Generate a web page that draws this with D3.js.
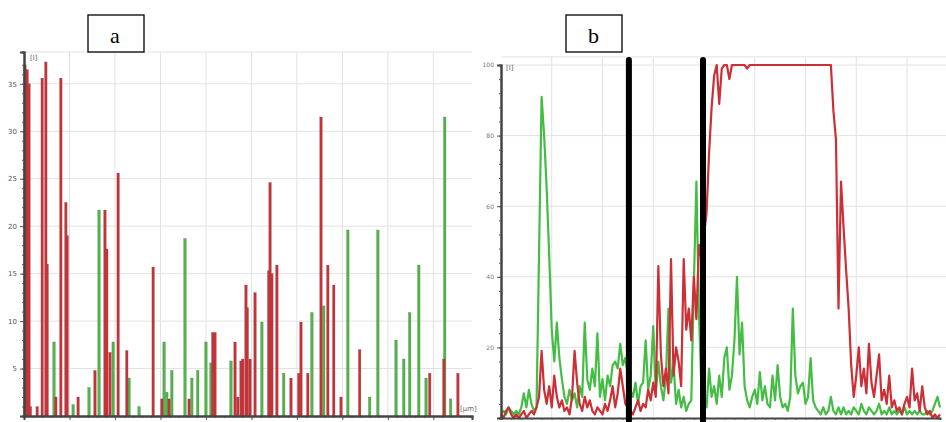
<!DOCTYPE html>
<html>
<head>
<meta charset="utf-8">
<script src="https://cdn.jsdelivr.net/npm/d3@7"></script>
<style>
  body { margin: 0; background: #fff; }
  svg { display: block; }
</style>
</head>
<body>
<svg id="chart" width="946" height="422"></svg>
<script>
// ---- panel a : peaks [position in um, intensity] ----
var aRedPeaks = [
  [0.02, 37], [0.07, 36.5], [0.11, 35], [0.14, 1], [0.29, 1], [0.40, 35.6], [0.48, 37.3],
  [0.51, 16], [0.70, 2], [0.81, 35.6], [0.92, 22.5], [0.95, 19], [1.19, 2], [1.56, 4.8],
  [1.78, 21.7], [1.82, 17.6], [1.89, 6.7], [2.07, 25.6], [2.26, 6.9], [2.84, 15.7],
  [3.03, 1.8], [3.19, 1.8], [3.63, 1.8], [4.15, 8.8], [4.20, 8.8], [4.64, 7.8], [4.70, 2],
  [4.77, 5.8], [4.81, 6], [4.88, 13.8], [4.91, 11.4], [4.97, 6], [5.08, 13], [5.38, 15.3],
  [5.41, 24.6], [5.45, 15], [5.56, 15.9], [5.87, 4], [6.04, 4.5], [6.09, 9.9], [6.24, 4.5],
  [6.53, 31.5], [6.68, 15.9], [6.81, 13.8], [6.97, 2], [7.38, 7], [8.92, 4.5], [9.23, 6],
  [9.54, 4.5]
];
var aGreenPeaks = [
  [0.08, 29], [0.66, 7.8], [1.08, 1.2], [1.43, 3], [1.65, 21.7], [1.96, 7.8], [2.31, 4],
  [2.53, 1], [3.08, 7.8], [3.14, 2.5], [3.25, 4.8], [3.54, 18.7], [3.69, 4], [3.82, 4.8],
  [4.00, 7.8], [4.11, 5.6], [4.55, 5.8], [5.23, 9.9], [5.71, 4.5], [6.33, 10.9], [6.59, 11.6],
  [7.12, 19.6], [7.60, 2], [7.78, 19.6], [8.18, 8], [8.35, 6], [8.48, 10.9], [8.68, 15.9],
  [8.84, 4], [9.25, 31.5], [9.38, 1.8]
];
var aTicks = [5, 10, 15, 20, 25, 30, 35];

// ---- panel b : profile sampled every bStep um ----
var bStep = 0.05;
var bGreen = [
  1, 2, 1, 3, 2, 1, 2, 1, 3, 7, 3, 8, 4, 2, 3, 47, 91, 80, 65, 46,
  25, 16, 27, 17, 11, 6, 4, 8, 5, 7, 3, 9, 6, 27, 11, 8, 14, 9, 24, 6,
  11, 5, 12, 9, 15, 16, 14, 21, 15, 17, 12, 8, 6, 10, 4, 9, 10, 22, 8, 12,
  26, 7, 16, 9, 5, 12, 31, 10, 15, 4, 8, 3, 6, 2, 4, 5, 38, 67, 30, 8,
  5, 3, 14, 6, 9, 4, 12, 6, 17, 20, 8, 12, 22, 40, 18, 27, 9, 5, 3, 6,
  8, 4, 13, 5, 9, 4, 3, 12, 5, 15, 6, 3, 4, 2, 6, 31, 12, 7, 9, 10,
  4, 6, 17, 5, 3, 2, 1, 3, 1, 2, 6, 2, 1, 3, 1, 3, 1, 2, 1, 3,
  2, 1, 4, 2, 1, 3, 2, 1, 2, 4, 1, 2, 1, 3, 1, 2, 1, 2, 1, 3,
  1, 2, 1, 2, 1, 2, 1, 1, 2, 1, 2, 4, 6, 3
];
var bRed = [
  1, 0, 2, 3, 1, 0, 1, 0, 1, 2, 0, 1, 2, 1, 3, 6, 19, 8, 4, 9,
  3, 12, 6, 3, 5, 2, 3, 1, 6, 19, 10, 4, 2, 6, 3, 5, 2, 1, 3, 2,
  1, 4, 2, 5, 9, 3, 7, 14, 9, 4, 3, 2, 1, 3, 5, 2, 4, 3, 8, 5,
  10, 6, 43, 18, 9, 14, 7, 45, 12, 20, 16, 9, 45, 25, 31, 22, 40, 28, 49, 45,
  52, 58, 75, 88, 97, 100, 89, 99, 100, 100, 96, 100, 100, 100, 100, 100, 100, 99, 100, 100,
  100, 100, 100, 100, 100, 100, 100, 100, 100, 100, 100, 100, 100, 100, 100, 100, 100, 100, 100, 100,
  100, 100, 100, 100, 100, 100, 100, 100, 100, 100, 100, 87, 79, 31, 67, 54, 42, 31, 15, 6,
  12, 20, 9, 14, 7, 21, 10, 6, 12, 18, 5, 8, 4, 12, 3, 5, 2, 3, 1, 4,
  6, 3, 14, 5, 7, 2, 9, 3, 1, 2, 0, 1, 0, 1
];
var bTicks = [20, 40, 60, 80, 100];
var bMarkers = [2.52, 3.98];

var panelLabels = ["a", "b"];

var svg = d3.select("#chart");
svg.append("rect").attr("width", 946).attr("height", 422).attr("fill", "#fff");

var green = "#43bd43";
var red = "#cc2f35";

// ================ panel a ================
var xA = d3.scaleLinear().domain([0, 9.85]).range([24, 472]);
var yA = d3.scaleLinear().domain([0, 38.35]).range([416, 52]);

var gA = svg.append("g");

// grid
gA.selectAll(".vgrid").data(d3.range(1, 10)).enter().append("line")
  .attr("x1", (d) => xA(d)).attr("x2", (d) => xA(d))
  .attr("y1", yA(38.35)).attr("y2", yA(0))
  .style("stroke", "#e2e2e2").style("stroke-width", 1);
gA.selectAll(".hgrid").data(aTicks.concat([38.35])).enter().append("line")
  .attr("x1", xA(0)).attr("x2", xA(9.85))
  .attr("y1", (d) => yA(d)).attr("y2", (d) => yA(d))
  .style("stroke", "#e2e2e2").style("stroke-width", 1);

// bars
function drawPeaks(g, peaks, color, xs, ys) {
  g.selectAll(null).data(peaks).enter().append("rect")
    .attr("x", (d) => xs(d[0]) - 1.25)
    .attr("y", (d) => ys(d[1]))
    .attr("width", 2.5)
    .attr("height", (d) => ys(0) - ys(d[1]))
    .style("fill", color)
    .style("stroke", "#7a5a5a")
    .style("stroke-width", 0.4)
    .style("stroke-opacity", 0.7);
}
drawPeaks(gA, aGreenPeaks, green, xA, yA);
drawPeaks(gA, aRedPeaks, red, xA, yA);

// axes
gA.append("g").attr("transform", "translate(24,0)")
  .call(d3.axisLeft(yA).tickValues(aTicks).tickSize(4).tickFormat(d3.format("d")));
gA.append("g").attr("transform", "translate(24,0)")
  .call(d3.axisLeft(yA).tickValues(d3.range(1, 38)).tickSize(2).tickFormat(""));
gA.append("g").attr("transform", "translate(0,416)")
  .call(d3.axisBottom(xA).tickValues(d3.range(0, 9.85, 0.2)).tickSize(2).tickFormat(""));
gA.append("g").attr("transform", "translate(0,416)")
  .call(d3.axisBottom(xA).tickValues(d3.range(1, 10)).tickSize(4).tickFormat(""));
gA.selectAll(".domain").style("stroke", "#444").style("stroke-width", 2);
gA.selectAll(".tick line").style("stroke", "#555");
gA.selectAll(".tick text").style("font-family", "DejaVu Sans").style("font-size", "7px").style("fill", "#555");

gA.append("text").text("[I]").attr("x", 30).attr("y", 60)
  .style("font-family", "DejaVu Sans").style("font-size", "7px").style("fill", "#666");
gA.append("text").text("[µm]").attr("x", 460).attr("y", 411)
  .style("font-family", "DejaVu Sans").style("font-size", "7px").style("fill", "#666");

// ================ panel b ================
var xB = d3.scaleLinear().domain([0, 8.65]).range([501, 940]);
var yB = d3.scaleLinear().domain([0, 100]).range([418, 65]);
var bTop = 102.3;

var gB = svg.append("g");

gB.selectAll(".vgrid").data(d3.range(1, 9)).enter().append("line")
  .attr("x1", (d) => xB(d)).attr("x2", (d) => xB(d))
  .attr("y1", yB(bTop)).attr("y2", yB(0))
  .style("stroke", "#e2e2e2").style("stroke-width", 1);
gB.selectAll(".hgrid").data(bTicks.concat([bTop])).enter().append("line")
  .attr("x1", xB(0)).attr("x2", 946)
  .attr("y1", (d) => yB(d)).attr("y2", (d) => yB(d))
  .style("stroke", "#e2e2e2").style("stroke-width", 1);

var lineB = d3.line()
  .x((d, i) => xB(i * bStep))
  .y((d) => yB(d));

gB.append("path").datum(bGreen).attr("d", lineB)
  .style("fill", "none").style("stroke", green).style("stroke-width", 2.2)
  .style("stroke-linejoin", "round");
gB.append("path").datum(bRed).attr("d", lineB)
  .style("fill", "none").style("stroke", red).style("stroke-width", 2.2)
  .style("stroke-linejoin", "round");

gB.append("g").attr("transform", "translate(501,0)")
  .call(d3.axisLeft(yB).tickValues(bTicks).tickSize(4).tickFormat(d3.format("d")));
gB.append("g").attr("transform", "translate(501,0)")
  .call(d3.axisLeft(yB).tickValues(d3.range(4, 102, 4)).tickSize(2).tickFormat(""));
gB.append("g").attr("transform", "translate(0,418)")
  .call(d3.axisBottom(xB).tickValues(d3.range(0, 8.65, 0.2)).tickSize(2).tickFormat(""));
gB.selectAll(".domain").style("stroke", "#444").style("stroke-width", 2);
gB.selectAll(".tick line").style("stroke", "#555");
gB.selectAll(".tick text").style("font-family", "DejaVu Sans").style("font-size", "6px").style("fill", "#777");

gB.append("text").text("[I]").attr("x", 506).attr("y", 70)
  .style("font-family", "DejaVu Sans").style("font-size", "7px").style("fill", "#666");

// black marker bars
gB.selectAll(".marker").data(bMarkers).enter().append("line")
  .attr("x1", (d) => xB(d)).attr("x2", (d) => xB(d))
  .attr("y1", 60).attr("y2", 425)
  .style("stroke", "#000").style("stroke-width", 6).style("stroke-linecap", "round");

// ================ label boxes ================
var boxX = [88, 566];
svg.selectAll(".lbl").data(panelLabels).enter().append("rect")
  .attr("x", (d, i) => boxX[i]).attr("y", 15)
  .attr("width", 56).attr("height", 37)
  .style("fill", "#fff").style("stroke", "#000").style("stroke-width", 1.3);
svg.selectAll(".lbltxt").data(panelLabels).enter().append("text")
  .text((d) => d)
  .attr("x", (d, i) => boxX[i] + 22).attr("y", 43)
  .style("font-family", "Liberation Serif").style("font-size", "22px").style("fill", "#000");
</script>
</body>
</html>
